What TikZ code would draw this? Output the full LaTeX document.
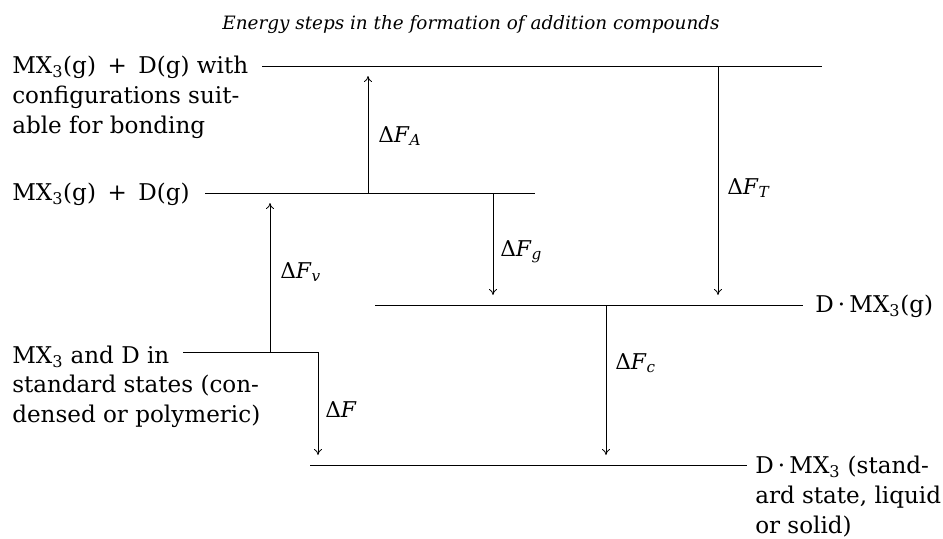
\documentclass[tikz,border=0pt]{standalone}
\usepackage{fontspec}
\setmainfont{DejaVu Serif}
\usetikzlibrary{arrows.meta}
\newcommand\dF[1]{Δ\textit{F}\textsubscript{\textit{#1}}}
\newcommand\cdt{\kern0.18em·\kern0.18em}
\newcommand\pls{\hspace{0.5em}+\hspace{0.5em}}
\begin{document}
\begin{tikzpicture}[x=0.75pt,y=-0.75pt,
  lvl/.style={line width=0.7pt},
  arr/.style={line width=0.6pt,-{To[length=4.5pt,width=6pt]}},
  txt/.style={anchor=base west,inner sep=0pt,font=\fontsize{17.3}{20}\selectfont},
  lab/.style={anchor=west,inner sep=0pt,font=\fontsize{16.3}{19}\selectfont},
  ttl/.style={anchor=base,inner sep=0pt,font=\fontsize{13.8}{16}\selectfont\itshape}]
\useasboundingbox (0,0) rectangle (943,539);
% title
\node[ttl] (title) at (471,29) {Energy steps in the formation of addition compounds};
% level texts
\node[txt] (a1) at (12,73) {MX\textsubscript{3}(g)\pls D(g) with};
\node[txt] (a2) at (12,103) {configurations suit-};
\node[txt] (a3) at (12,133) {able for bonding};
\node[txt] (b1) at (12,200) {MX\textsubscript{3}(g)\pls D(g)};
\node[txt] (c1) at (12,363) {MX\textsubscript{3} and D in};
\node[txt] (c2) at (12,392) {standard states (con-};
\node[txt] (c3) at (12,422) {densed or polymeric)};
\node[txt] (d1) at (815,312) {D\cdt MX\textsubscript{3}(g)};
\node[txt] (e1) at (755,473) {D\cdt MX\textsubscript{3} (stand-};
\node[txt] (e2) at (755,503) {ard state, liquid};
\node[txt] (e3) at (755,533) {or solid)};
% level end points
\coordinate (L1a) at (262,66);  \coordinate (L1b) at (822,66);
\coordinate (L2a) at (205,193); \coordinate (L2b) at (535,193);
\coordinate (L3a) at (375,305); \coordinate (L3b) at (803,305);
\coordinate (L4a) at (310,465); \coordinate (L4b) at (747,465);
\coordinate (L5a) at (183,352); \coordinate (L5b) at (318,352);
\draw[lvl] (L1a) -- (L1b);
\draw[lvl] (L2a) -- (L2b);
\draw[lvl] (L3a) -- (L3b);
\draw[lvl] (L4a) -- (L4b);
% arrow starts and ends
\coordinate (As) at (368,193); \coordinate (Ae) at (368,76);
\coordinate (Vs) at (270,352); \coordinate (Ve) at (270,203);
\coordinate (Fe) at (318,455);
\coordinate (Gs) at (493,193); \coordinate (Ge) at (493,295);
\coordinate (Ts) at (718,66);  \coordinate (Te) at (718,295);
\coordinate (Cs) at (606,305); \coordinate (Ce) at (606,455);
\draw[lvl] (L5a) -- (L5b);
\draw[arr] (L5b) -- (Fe);
\draw[arr] (As) -- (Ae);
\draw[arr] (Vs) -- (Ve);
\draw[arr] (Gs) -- (Ge);
\draw[arr] (Ts) -- (Te);
\draw[arr] (Cs) -- (Ce);
% labels
\node[lab] (lA) at (378,136) {\dF{A}};
\node[lab] (lT) at (727,188) {\dF{T}};
\node[lab] (lG) at (500,252) {\dF{g}};
\node[lab] (lV) at (280,272) {\dF{v}};
\node[lab] (lC) at (615,363) {\dF{c}};
\node[lab] (lF) at (325,410) {Δ\textit{F}};
\end{tikzpicture}
\end{document}
